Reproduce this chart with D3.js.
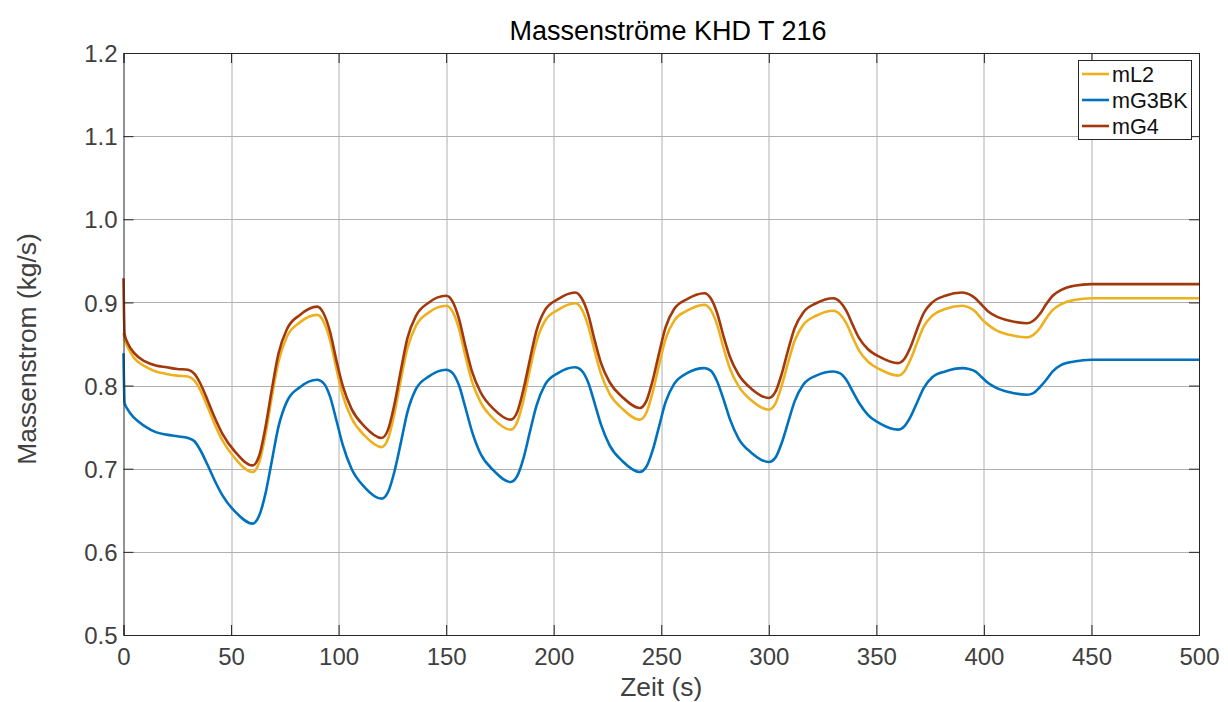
<!DOCTYPE html>
<html>
<head>
<meta charset="utf-8">
<script src="https://cdn.jsdelivr.net/npm/d3@7"></script>
<style>
  body { margin: 0; background: #fff; }
  svg { font-family: "Liberation Sans", Arial, Helvetica, sans-serif; }
</style>
</head>
<body>
<div class="canvas"></div>
<script>
// time axis (s)
const zeit = [0, 0.5, 2, 5, 10, 15, 20, 25, 30,
  33, 36, 39, 42, 46, 52, 60,
  63, 66, 69, 72, 76, 82, 90,
  93, 96, 99, 102, 106, 112, 120,
  123, 126, 129, 132, 136, 142, 150,
  153, 156, 159, 162, 166, 172, 180,
  183, 186, 189, 192, 196, 202, 210,
  213, 216, 219, 222, 226, 232, 240,
  243, 246, 249, 252, 256, 262, 270,
  273, 276, 279, 282, 286, 292, 300,
  303, 306, 309, 312, 316, 322, 330,
  333, 336, 339, 342, 346, 352, 360,
  363, 366, 369, 372, 376, 382, 390,
  393, 396, 399, 402, 406, 412, 420,
  423, 426, 429, 432, 436, 442, 450,
  500];

const mL2 = [0.863, 0.856, 0.846, 0.833, 0.823, 0.817, 0.814, 0.812, 0.811,
  0.806, 0.793, 0.775, 0.756, 0.734, 0.712, 0.696,
  0.707, 0.741, 0.787, 0.828, 0.859, 0.876, 0.885,
  0.877, 0.855, 0.820, 0.788, 0.761, 0.740, 0.726,
  0.736, 0.767, 0.808, 0.845, 0.872, 0.888, 0.896,
  0.889, 0.868, 0.835, 0.805, 0.780, 0.760, 0.747,
  0.756, 0.783, 0.820, 0.853, 0.878, 0.891, 0.899,
  0.892, 0.872, 0.842, 0.814, 0.790, 0.772, 0.759,
  0.767, 0.792, 0.825, 0.856, 0.878, 0.890, 0.897,
  0.891, 0.873, 0.845, 0.820, 0.799, 0.782, 0.771,
  0.778, 0.800, 0.828, 0.854, 0.873, 0.884, 0.890,
  0.886, 0.875, 0.858, 0.842, 0.829, 0.819, 0.812,
  0.817, 0.832, 0.852, 0.871, 0.884, 0.892, 0.896,
  0.894, 0.889, 0.880, 0.873, 0.866, 0.861, 0.858,
  0.861, 0.869, 0.881, 0.891, 0.898, 0.903, 0.905,
  0.905];

const mG3BK = [0.839, 0.779, 0.771, 0.761, 0.751, 0.744, 0.741, 0.739, 0.737,
  0.733, 0.721, 0.705, 0.688, 0.668, 0.648, 0.634,
  0.643, 0.670, 0.710, 0.750, 0.781, 0.798, 0.807,
  0.803, 0.787, 0.758, 0.728, 0.700, 0.678, 0.664,
  0.672, 0.697, 0.732, 0.768, 0.796, 0.811, 0.819,
  0.815, 0.800, 0.773, 0.745, 0.718, 0.698, 0.684,
  0.691, 0.713, 0.745, 0.776, 0.801, 0.815, 0.822,
  0.818, 0.804, 0.779, 0.753, 0.728, 0.709, 0.696,
  0.702, 0.722, 0.751, 0.780, 0.802, 0.815, 0.821,
  0.818, 0.805, 0.783, 0.759, 0.736, 0.719, 0.708,
  0.713, 0.731, 0.756, 0.781, 0.801, 0.812, 0.817,
  0.815, 0.807, 0.793, 0.779, 0.765, 0.754, 0.747,
  0.751, 0.763, 0.780, 0.797, 0.810, 0.817, 0.821,
  0.820, 0.817, 0.810, 0.803, 0.797, 0.792, 0.789,
  0.791, 0.798, 0.807, 0.817, 0.825, 0.829, 0.831,
  0.831];

const mG4 = [0.929, 0.862, 0.851, 0.839, 0.829, 0.824, 0.822, 0.820, 0.819,
  0.814, 0.801, 0.783, 0.764, 0.742, 0.720, 0.704,
  0.715, 0.750, 0.796, 0.838, 0.868, 0.885, 0.895,
  0.887, 0.865, 0.830, 0.799, 0.772, 0.751, 0.737,
  0.747, 0.778, 0.819, 0.857, 0.884, 0.900, 0.908,
  0.901, 0.880, 0.847, 0.817, 0.792, 0.772, 0.759,
  0.768, 0.796, 0.832, 0.866, 0.891, 0.904, 0.912,
  0.905, 0.886, 0.855, 0.827, 0.804, 0.786, 0.773,
  0.781, 0.806, 0.839, 0.870, 0.892, 0.904, 0.911,
  0.905, 0.887, 0.859, 0.834, 0.813, 0.796, 0.785,
  0.792, 0.814, 0.843, 0.869, 0.888, 0.899, 0.905,
  0.901, 0.890, 0.873, 0.857, 0.844, 0.834, 0.827,
  0.832, 0.847, 0.868, 0.887, 0.900, 0.908, 0.912,
  0.910, 0.905, 0.897, 0.889, 0.883, 0.878, 0.875,
  0.878, 0.886, 0.898, 0.908, 0.915, 0.920, 0.922,
  0.922];

const seriesNames = ["mL2", "mG3BK", "mG4"];
const seriesColors = ["#edb120", "#0072bd", "#a2380c"];
const xTicks = [0, 50, 100, 150, 200, 250, 300, 350, 400, 450, 500];
const yTicks = [0.5, 0.6, 0.7, 0.8, 0.9, 1.0, 1.1, 1.2];

const W = 1228, H = 702;
const margin = {top: 53, right: 29, bottom: 67, left: 123.5};
const graphWidth = W - margin.left - margin.right;
const graphHeight = H - margin.top - margin.bottom;

const svg = d3.select(".canvas")
  .append("svg")
    .attr("width", W)
    .attr("height", H);

const graph = svg.append("g")
    .attr("transform", `translate(${margin.left},${margin.top})`);

const x = d3.scaleLinear().domain([0, 500]).range([0, graphWidth]);
const y = d3.scaleLinear().domain([0.5, 1.2]).range([graphHeight, 0]);

// grid
graph.append("g").selectAll("line.vg")
  .data(xTicks.slice(1, -1))
  .enter().append("line")
    .attr("x1", d => Math.round(x(d)) + 0.5).attr("x2", d => Math.round(x(d)) + 0.5)
    .attr("y1", 0).attr("y2", graphHeight)
    .attr("stroke", "#b0b0b0").attr("stroke-width", 1);
graph.append("g").selectAll("line.hg")
  .data(yTicks.slice(1, -1))
  .enter().append("line")
    .attr("y1", d => Math.round(y(d)) + 0.5).attr("y2", d => Math.round(y(d)) + 0.5)
    .attr("x1", 0).attr("x2", graphWidth)
    .attr("stroke", "#b0b0b0").attr("stroke-width", 1);

// lines
const table = zeit.map((t, i) => ({t: t, v: [mL2[i], mG3BK[i], mG4[i]]}));
const line = k => d3.line()
    .x(d => x(d.t))
    .y(d => y(d.v[k]))
    .curve(d3.curveMonotoneX);

seriesNames.forEach((name, k) => {
  graph.append("path")
    .datum(table)
    .attr("fill", "none")
    .attr("stroke", seriesColors[k])
    .attr("stroke-width", 2.6)
    .attr("stroke-linejoin", "round")
    .attr("d", line(k));
});

// axes (box with inward ticks on all sides)
const axisColor = "#262626";
const tickLen = 10;
const xAxis = d3.axisBottom(x).tickValues(xTicks).tickSize(-tickLen).tickPadding(13).tickFormat(d3.format("d"));
const yAxis = d3.axisLeft(y).tickValues(yTicks).tickSize(-tickLen).tickPadding(6).tickFormat(d3.format(".1f"));

const xAxisGroup = graph.append("g").attr("transform", `translate(0,${graphHeight})`).call(xAxis);
const yAxisGroup = graph.append("g").call(yAxis);
graph.append("g").call(d3.axisTop(x).tickValues(xTicks).tickSize(-tickLen).tickFormat(""));
graph.append("g").attr("transform", `translate(${graphWidth},0)`)
  .call(d3.axisRight(y).tickValues(yTicks).tickSize(-tickLen).tickFormat(""));

graph.selectAll(".domain").attr("stroke", axisColor);
graph.selectAll(".tick line").attr("stroke", axisColor);
[xAxisGroup, yAxisGroup].forEach(g => g.selectAll("text")
  .attr("fill", "#404040")
  .style("font-size", "24px"));
yAxisGroup.selectAll("text").attr("dy", "0.36em");

// title + labels
svg.append("text")
  .attr("x", 668).attr("y", 40)
  .attr("text-anchor", "middle")
  .attr("fill", "#000")
  .style("font-size", "27px")
  .text("Massenströme KHD T 216");

svg.append("text")
  .attr("x", margin.left + graphWidth / 2).attr("y", 696)
  .attr("text-anchor", "middle")
  .attr("fill", "#404040")
  .style("font-size", "26.4px")
  .text("Zeit (s)");

svg.append("text")
  .attr("transform", `translate(36,349) rotate(-90)`)
  .attr("text-anchor", "middle")
  .attr("fill", "#404040")
  .style("font-size", "26.4px")
  .text("Massenstrom (kg/s)");

// legend
const legend = svg.append("g").attr("transform", "translate(1078,60)");
legend.append("rect")
  .attr("x", 0.5).attr("y", 0.5)
  .attr("width", 113).attr("height", 79)
  .attr("fill", "#fff")
  .attr("stroke", axisColor).attr("stroke-width", 1);
seriesNames.forEach((name, k) => {
  const yy = 14 + k * 26;
  legend.append("line")
    .attr("x1", 4).attr("x2", 31)
    .attr("y1", yy).attr("y2", yy)
    .attr("stroke", seriesColors[k]).attr("stroke-width", 2.6);
  legend.append("text")
    .attr("x", 34).attr("y", yy)
    .attr("dy", "0.36em")
    .attr("fill", "#111")
    .style("font-size", "21.6px")
    .text(name);
});
</script>
</body>
</html>
